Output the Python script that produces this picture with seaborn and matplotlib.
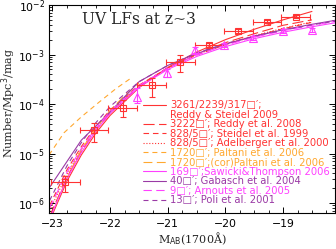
import numpy as np
import matplotlib
matplotlib.use("Agg")
import matplotlib.pyplot as plt
import seaborn as sns
from matplotlib.lines import Line2D
from matplotlib.ticker import MultipleLocator, LogLocator, NullFormatter

# ---------------- data ----------------
# Schechter curves, log10(phi) at the given absolute magnitudes
rs09_M = [-23.05, -22.75, -22.5, -22.25, -22.0, -21.5, -21.0, -20.5, -20.0, -19.5, -19.0, -18.5]
rs09_logphi = [-6.36, -5.56, -5.03, -4.59, -4.23, -3.67, -3.26, -2.95, -2.70, -2.49, -2.30, -2.13]

r08_M = [-23.05, -22.75, -22.5, -22.25, -22.0, -21.5, -21.0, -20.5, -20.0, -19.5, -19.0, -18.5]
r08_logphi = [-6.27, -5.48, -4.96, -4.54, -4.18, -3.65, -3.27, -2.99, -2.76, -2.58, -2.41, -2.30]

s99_M = [-23.05, -22.75, -22.5, -22.25, -22.0, -21.5, -21.0, -20.5, -20.0, -19.5, -19.0, -18.5]
s99_logphi = [-6.05, -5.33, -4.86, -4.46, -4.12, -3.62, -3.27, -3.01, -2.80, -2.63, -2.48, -2.35]

a00_M = [-23.05, -22.75, -22.5, -22.25, -22.0, -21.5, -21.0, -20.5, -20.0, -19.5, -19.0, -18.5]
a00_logphi = [-6.15, -5.42, -4.92, -4.50, -4.15, -3.63, -3.27, -3.00, -2.79, -2.62, -2.47, -2.34]

p06_M = [-23.06, -22.8, -22.5, -22.2, -21.9, -21.63]
p06_logphi = [-5.03, -4.58, -4.26, -3.97, -3.69, -3.47]

p06c_M = [-22.95, -22.75, -22.5, -22.25, -22.0, -21.75, -21.5]
p06c_logphi = [-6.05, -5.50, -4.92, -4.50, -4.13, -3.83, -3.58]

st06_M = [-23.05, -22.75, -22.5, -22.25, -22.0, -21.5, -21.0, -20.5, -20.0, -19.5, -19.0, -18.5, -18.0]
st06_logphi = [-6.32, -5.51, -4.98, -4.54, -4.19, -3.66, -3.30, -3.04, -2.84, -2.68, -2.55, -2.44, -2.34]

g04_M = [-23.06, -22.5, -22.0, -21.5, -21.0, -20.5, -20.0, -19.5, -19.0, -18.5, -18.0]
g04_logphi = [-5.70, -4.73, -4.16, -3.55, -3.22, -2.98, -2.79, -2.63, -2.50, -2.39, -2.29]

a05_M = [-23.05, -22.75, -22.5, -22.25, -22.0, -21.5, -21.0, -20.5, -20.0, -19.5, -19.0, -18.5, -18.0]
a05_logphi = [-6.10, -5.38, -4.90, -4.49, -4.15, -3.63, -3.27, -3.01, -2.81, -2.65, -2.52, -2.41, -2.31]

p01_M = [-23.05, -22.75, -22.5, -22.25, -22.0, -21.5, -21.0, -20.5, -20.0, -19.5, -19.0, -18.5, -18.0]
p01_logphi = [-5.95, -5.25, -4.78, -4.38, -4.05, -3.55, -3.22, -2.97, -2.78, -2.63, -2.51, -2.40, -2.31]

# Reddy & Steidel 2009 binned points (open squares)
rs_pts_M = [-22.78, -22.28, -21.78, -21.28, -20.78, -20.28, -19.78, -19.28, -18.78]
rs_pts_logphi = [-5.58, -4.53, -4.08, -3.62, -3.15, -2.81, -2.53, -2.34, -2.24]
rs_pts_err_lo = [0.20, 0.24, 0.18, 0.24, 0.20, 0.04, 0.04, 0.03, 0.03]
rs_pts_err_hi = [0.13, 0.15, 0.16, 0.15, 0.14, 0.04, 0.04, 0.03, 0.03]
rs_pts_dM = [0.25] * 9

# Sawicki & Thompson 2006 points (open triangles)
st_pts_M = [-21.53, -21.01, -20.52, -20.02, -19.52, -19.00, -18.50]
st_pts_logphi = [-3.86, -3.37, -2.91, -2.81, -2.67, -2.53, -2.51]
st_pts_err_lo = [0.12, 0.08, 0.06, 0.04, 0.04, 0.04, 0.04]
st_pts_err_hi = [0.18, 0.08, 0.06, 0.04, 0.04, 0.04, 0.04]

labels = [
    "3261/2239/317\u25a1\u2032;",
    "3222\u25a1\u2032; Reddy et al. 2008",
    "828/5\u25a1\u2032; Steidel et al. 1999",
    "828/5\u25a1\u2032; Adelberger et al. 2000",
    "1720\u25a1\u2032; Paltani et al. 2006",
    "1720\u25a1\u2032;(cor)Paltani et al. 2006",
    "169\u25a1\u2032;Sawicki&Thompson 2006",
    "40\u25a1\u2032; Gabasch et al. 2004",
    "9\u25a1\u2032; Arnouts et al. 2005",
    "13\u25a1\u2032; Poli et al. 2001",
]
label_rs09_line2 = "Reddy & Steidel 2009"

# ---------------- style ----------------
RED = "#FF3333"
ORANGE = "#FFA830"
MAGENTA = "#FF40FF"
PURPLE = "#9A3AA5"

sns.set_style("ticks")
plt.rcParams.update({
    "font.family": ["DejaVu Sans"],
    "xtick.direction": "in", "ytick.direction": "in",
    "xtick.top": True, "ytick.right": True,
    "xtick.major.size": 4.3, "ytick.major.size": 4.3,
    "xtick.minor.size": 2.2, "ytick.minor.size": 2.2,
    "xtick.major.width": 0.7, "ytick.major.width": 0.7,
    "xtick.minor.width": 0.6, "ytick.minor.width": 0.6,
    "xtick.color": "black", "ytick.color": "black",
    "axes.linewidth": 0.8, "axes.edgecolor": "black",
    "xtick.labelsize": 7.8, "ytick.labelsize": 7.8,
})

fig = plt.figure(figsize=(3.36, 2.49), dpi=100)
ax = fig.add_axes([49 / 336, 36 / 249, 286 / 336, 208 / 249])

LW = 0.8
curves = [
    (rs09_M, rs09_logphi, RED, "-"),
    (r08_M, r08_logphi, RED, (0, (10, 4))),
    (s99_M, s99_logphi, RED, (0, (5, 3.5))),
    (a00_M, a00_logphi, RED, (0, (1, 1.6))),
    (p06_M, p06_logphi, ORANGE, (0, (4.5, 3.5))),
    (p06c_M, p06c_logphi, ORANGE, (0, (8, 4))),
    (st06_M, st06_logphi, MAGENTA, "-"),
    (g04_M, g04_logphi, PURPLE, "-"),
    (a05_M, a05_logphi, MAGENTA, (0, (7.5, 4))),
    (p01_M, p01_logphi, PURPLE, (0, (4.5, 3.5))),
]

for M, lp, col, ls in curves:
    sns.lineplot(x=M, y=10 ** np.array(lp), ax=ax, color=col, linestyle=ls,
                 linewidth=LW, sort=False, estimator=None, legend=False)

# data points
rs_y = 10 ** np.array(rs_pts_logphi)
rs_lo = rs_y - 10 ** (np.array(rs_pts_logphi) - np.array(rs_pts_err_lo))
rs_hi = 10 ** (np.array(rs_pts_logphi) + np.array(rs_pts_err_hi)) - rs_y
ax.errorbar(rs_pts_M, rs_y, xerr=rs_pts_dM, yerr=[rs_lo, rs_hi], fmt="s",
            ms=5, mfc="none", mec=RED, mew=0.8, ecolor=RED, elinewidth=0.8,
            capsize=2.5, capthick=0.8, zorder=5)

st_y = 10 ** np.array(st_pts_logphi)
st_lo = st_y - 10 ** (np.array(st_pts_logphi) - np.array(st_pts_err_lo))
st_hi = 10 ** (np.array(st_pts_logphi) + np.array(st_pts_err_hi)) - st_y
ax.errorbar(st_pts_M, st_y, yerr=[st_lo, st_hi], fmt="^",
            ms=5.5, mfc="none", mec=MAGENTA, mew=0.8, ecolor=MAGENTA, elinewidth=0.8,
            capsize=2.5, capthick=0.8, zorder=5)

# axes
ax.set_yscale("log")
ax.set_xlim(-23.06, -18.1)
ax.set_ylim(10 ** -6.2, 1e-2)
ax.xaxis.set_major_locator(MultipleLocator(1))
ax.xaxis.set_minor_locator(MultipleLocator(0.25))
ax.yaxis.set_major_locator(LogLocator(base=10, numticks=10))
ax.yaxis.set_minor_locator(LogLocator(base=10, subs=np.arange(2, 10), numticks=20))
ax.yaxis.set_minor_formatter(NullFormatter())
ax.tick_params(axis="x", which="major", pad=4)
ax.tick_params(axis="y", which="major", pad=3)

ax.set_xlabel("M$_{\\rm AB}$(1700\u00c5)", family="DejaVu Serif", fontsize=8)
ax.set_ylabel("Number/Mpc$^3$/mag", family="DejaVu Serif", fontsize=8)
ax.xaxis.set_label_coords(0.5, -0.085)
ax.yaxis.set_label_coords(-0.108, 0.53)

ax.text(0.115, 0.928, "UV LFs at z~3", transform=ax.transAxes,
        family="DejaVu Serif", fontsize=11.2, ha="left", va="center")

# legend
handles = []
leg_labels = []
for i, (M, lp, col, ls) in enumerate(curves):
    handles.append(Line2D([], [], color=col, linestyle=ls, linewidth=LW))
    leg_labels.append(labels[i])
    if i == 0:
        handles.append(Line2D([], [], color="none", linewidth=0))
        leg_labels.append(label_rs09_line2)
text_colors = [RED, RED, RED, RED, RED, ORANGE, ORANGE, MAGENTA, PURPLE, MAGENTA, PURPLE]

leg = ax.legend(handles, leg_labels, loc="upper left",
                bbox_to_anchor=((143 - 49) / 286, (213 - 100) / 208),
                frameon=False, fontsize=7.2, handlelength=2.3, handletextpad=0.4,
                labelspacing=-0.05, borderpad=0, borderaxespad=0)
for t, c in zip(leg.get_texts(), text_colors):
    t.set_color(c)

fig.savefig("out.png", dpi=100)
